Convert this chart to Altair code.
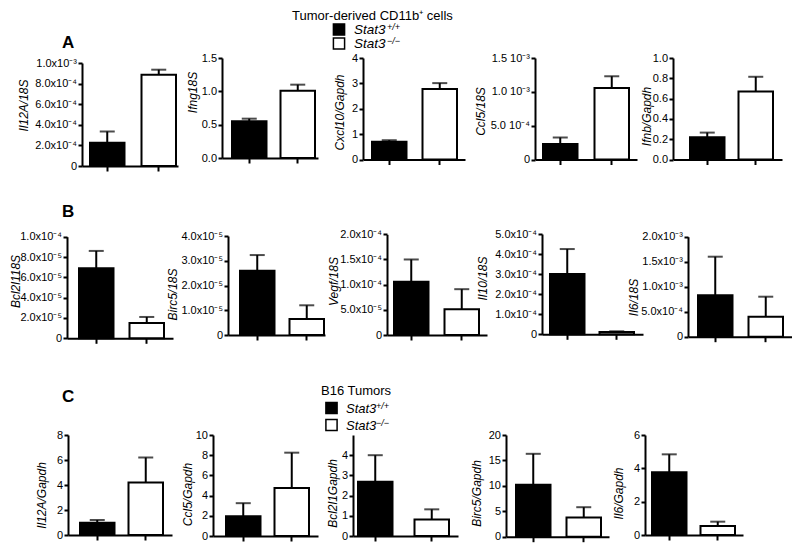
import json
import altair as alt
import pandas as pd

# ---------------- data ----------------
GROUPS = ["Stat3+/+", "Stat3-/-"]
LEGEND_MAIN = ["Stat3", "Stat3"]
LEGEND_SUP = ["+/+", "\u2212/\u2212"]

# Row A - Tumor-derived CD11b+ cells
TITLES_A = ["Il12A/18S", "Ifng18S", "Cxcl10/Gapdh", "Ccl5/18S", "Ifnb/Gapdh"]
MEAN_WT_A = [2.25e-4, 0.55, 0.70, 2.3e-4, 0.22]
SEM_WT_A = [1.1e-4, 0.04, 0.06, 0.95e-4, 0.045]
MEAN_KO_A = [8.85e-4, 1.01, 2.78, 1.055e-3, 0.67]
SEM_KO_A = [0.5e-4, 0.09, 0.23, 1.75e-4, 0.145]
YMAX_A = [1e-3, 1.5, 4, 1.5e-3, 1.0]
STEP_A = [2e-4, 0.5, 1, 5e-4, 0.2]
TICKS_A = [
    ["0", "2.0x10⁻⁴", "4.0x10⁻⁴", "6.0x10⁻⁴", "8.0x10⁻⁴", "1.0x10⁻³"],
    ["0.0", "0.5", "1.0", "1.5"],
    ["0", "1", "2", "3", "4"],
    ["0", "5.0 10⁻⁴", "1.0 10⁻³", "1.5 10⁻³"],
    ["0.0", "0.2", "0.4", "0.6", "0.8", "1.0"],
]

# Row B
TITLES_B = ["Bcl2l118S", "Birc5/18S", "Vegf/18S", "Il10/18S", "Il6/18S"]
MEAN_WT_B = [6.9e-5, 2.6e-5, 1.06e-4, 3.0e-4, 0.83e-3]
SEM_WT_B = [1.7e-5, 0.63e-5, 0.44e-4, 1.25e-4, 0.77e-3]
MEAN_KO_B = [1.5e-5, 0.65e-5, 0.51e-4, 1.2e-5, 0.4e-3]
SEM_KO_B = [0.6e-5, 0.55e-5, 0.40e-4, 0.3e-5, 0.4e-3]
YMAX_B = [1e-4, 4e-5, 2e-4, 5e-4, 2e-3]
STEP_B = [2e-5, 1e-5, 5e-5, 1e-4, 5e-4]
TICKS_B = [
    ["0", "2.0x10⁻⁵", "4.0x10⁻⁵", "6.0x10⁻⁵", "8.0x10⁻⁵", "1.0x10⁻⁴"],
    ["0", "1.0x10⁻⁵", "2.0x10⁻⁵", "3.0x10⁻⁵", "4.0x10⁻⁵"],
    ["0", "5.0x10⁻⁵", "1.0x10⁻⁴", "1.5x10⁻⁴", "2.0x10⁻⁴"],
    ["0", "1.0x10⁻⁴", "2.0x10⁻⁴", "3.0x10⁻⁴", "4.0x10⁻⁴", "5.0x10⁻⁴"],
    ["0", "5.0x10⁻⁴", "1.0x10⁻³", "1.5x10⁻³", "2.0x10⁻³"],
]

# Row C - B16 tumors
TITLES_C = ["Il12A/Gapdh", "Ccl5/Gapdh", "Bcl2l1Gapdh", "Birc5/Gapdh", "Il6/Gapdh"]
MEAN_WT_C = [0.99, 1.95, 2.68, 10.2, 3.76]
SEM_WT_C = [0.21, 1.3, 1.32, 6.1, 1.08]
MEAN_KO_C = [4.2, 4.75, 0.82, 3.8, 0.54]
SEM_KO_C = [2.0, 3.5, 0.5, 2.0, 0.26]
YMAX_C = [8, 10, 5, 20, 6]
STEP_C = [2, 2, 1, 5, 2]
TICKS_C = [
    ["0", "2", "4", "6", "8"],
    ["0", "2", "4", "6", "8", "10"],
    ["0", "1", "2", "3", "4"],
    ["0", "5", "10", "15", "20"],
    ["0", "2", "4", "6"],
]

# ---------------- layout (page pixels) ----------------
M = 8          # page margin
W, H = 784, 539
FONT = "Liberation Sans"
BAR_W = 34.5
# x0, x1, y_top, y_zero, black-bar left, white-bar right, title centre x, title centre y
BOX_A = [(82, 178, 63, 166, 90, 176, 23.5, 105),
         (222, 318, 58, 158, 232, 315, 192.5, 92),
         (363, 465, 58, 159.5, 372, 457, 339, 112),
         (535, 637, 58, 159.5, 543, 629, 480, 111),
         (673, 782, 58, 159.5, 690, 773, 646, 116)]
BOX_B = [(67, 173, 236.7, 338.3, 79, 164, 15, 281),
         (228, 325, 236, 335, 240, 324, 172, 294),
         (387, 487, 234.3, 335, 394, 479, 333, 281),
         (542, 643, 234, 334.3, 550, 634, 482, 278),
         (688, 792, 236.7, 336.7, 698, 783, 633, 297)]
BOX_C = [(68, 172, 435, 535, 80, 163, 41, 495),
         (213, 318, 435, 536, 226, 309, 187, 494),
         (353, 458, 435, 536, 358, 449, 332, 493),
         (506, 609, 435, 536.7, 516, 601, 476, 493),
         (645, 743, 435, 535, 652, 735, 618, 493)]

FILL = alt.Scale(domain=GROUPS, range=["black", "white"])


def panel(title, mwt, swt, mko, sko, ymax, step, labels, box):
    x0, x1, yt, yb, b0, w1, tcx, tcy = box
    x0c, x1c, ytc, ybc = x0 - M, x1 - M, yt - M, yb - M
    df = pd.DataFrame({
        "group": GROUPS,
        "mean": [mwt, mko],
        "upper": [mwt + swt, mko + sko],
    })
    gap = (w1 - b0) - 2 * BAR_W
    stp = BAR_W + gap
    outer = (x1 - x0) - (w1 - b0)
    xscale = alt.Scale(domain=GROUPS, range=[x0c, x1c], paddingInner=gap / stp,
                       paddingOuter=outer / (2 * stp), align=(b0 - x0) / outer)
    yscale = alt.Scale(domain=[0, ymax], range=[ybc, ytc], nice=False, zero=True)
    values = [round(i * step, 12) for i in range(len(labels))]
    label_expr = f"{json.dumps(labels, ensure_ascii=False)}[round(datum.value / {step})]"
    x_axis = alt.Axis(orient="bottom", offset=ybc - H, labels=False, title=None,
                      tickSize=5)
    y_axis = alt.Axis(orient="left", offset=-x0c, values=values, labelExpr=label_expr,
                      title=title, titleX=tcx - x0, titleY=tcy - M,
                      titleBaseline="middle", titleAlign="center", tickSize=4)
    base = alt.Chart(df)
    x = alt.X("group:N", scale=xscale, axis=x_axis, sort=GROUPS)
    err = base.mark_rule(color="black", strokeWidth=2).encode(
        x=x, y=alt.Y("mean:Q", scale=yscale, axis=y_axis), y2="upper:Q")
    cap = base.mark_tick(color="black", thickness=2, size=15).encode(
        x=x, y=alt.Y("upper:Q", scale=yscale))
    bar = base.mark_bar(stroke="black", strokeWidth=2).encode(
        x=x, y=alt.Y("mean:Q", scale=yscale),
        fill=alt.Fill("group:N", scale=FILL, legend=None))
    return alt.layer(err, cap, bar)


def text(txt, x, y, size, weight="normal", style="normal"):
    return alt.Chart(pd.DataFrame({"t": [txt]})).mark_text(
        align="left", baseline="alphabetic", fontSize=size, fontWeight=weight,
        fontStyle=style, font=FONT, color="black").encode(
        x=alt.value(x - M), y=alt.value(y - M), text="t:N")


def legend(cx, y1, y2, tx, supx, size):
    df = pd.DataFrame({"group": GROUPS, "main": LEGEND_MAIN, "sup": LEGEND_SUP})
    ys = alt.Y("group:N", scale=alt.Scale(domain=GROUPS, range=[y1 - M, y2 - M], padding=0),
               axis=None)
    sq = alt.Chart(df).mark_square(size=125, stroke="black", strokeWidth=1.5, opacity=1).encode(
        x=alt.value(cx - M), y=ys, fill=alt.Fill("group:N", scale=FILL, legend=None))
    main = alt.Chart(df).mark_text(align="left", baseline="alphabetic", dy=4.5, fontSize=size,
                                   fontStyle="italic", font=FONT, color="black").encode(
        x=alt.value(tx - M), y=ys, text="main:N")
    sup = alt.Chart(df).mark_text(align="left", baseline="alphabetic", dy=0.5, fontSize=9,
                                  fontStyle="italic", font=FONT, color="black").encode(
        x=alt.value(supx - M), y=ys, text="sup:N")
    return alt.layer(sq, main, sup)


layers = []
for rows in [
    (TITLES_A, MEAN_WT_A, SEM_WT_A, MEAN_KO_A, SEM_KO_A, YMAX_A, STEP_A, TICKS_A, BOX_A),
    (TITLES_B, MEAN_WT_B, SEM_WT_B, MEAN_KO_B, SEM_KO_B, YMAX_B, STEP_B, TICKS_B, BOX_B),
    (TITLES_C, MEAN_WT_C, SEM_WT_C, MEAN_KO_C, SEM_KO_C, YMAX_C, STEP_C, TICKS_C, BOX_C),
]:
    for args in zip(*rows):
        layers.append(panel(*args))

layers += [
    text("Tumor-derived CD11b⁺ cells", 292, 19.5, 13),
    legend(339, 29.5, 43.5, 354, 387, 13.5),
    text("A", 62, 48, 17, weight="bold"),
    text("B", 62, 217, 17, weight="bold"),
    text("C", 62, 402, 17, weight="bold"),
    text("B16 Tumors", 321, 395, 13),
    legend(331.5, 408, 425, 346, 376, 13),
]

chart = alt.layer(*layers).resolve_scale(
    x="independent", y="independent"
).properties(
    width=W, height=H, padding=0, autosize=alt.AutoSizeParams(type="none")
).configure_view(stroke=None).configure_axis(
    domainColor="black", domainWidth=2, tickColor="black", tickWidth=2,
    labelFont=FONT, labelFontSize=11, labelColor="black", labelPadding=1.5,
    labelOverlap=False, grid=False,
    titleFont=FONT, titleFontSize=12, titleFontWeight="normal",
    titleFontStyle="italic", titleColor="black",
)

chart.save("out.html", embed_options={"renderer": "svg", "actions": False})
